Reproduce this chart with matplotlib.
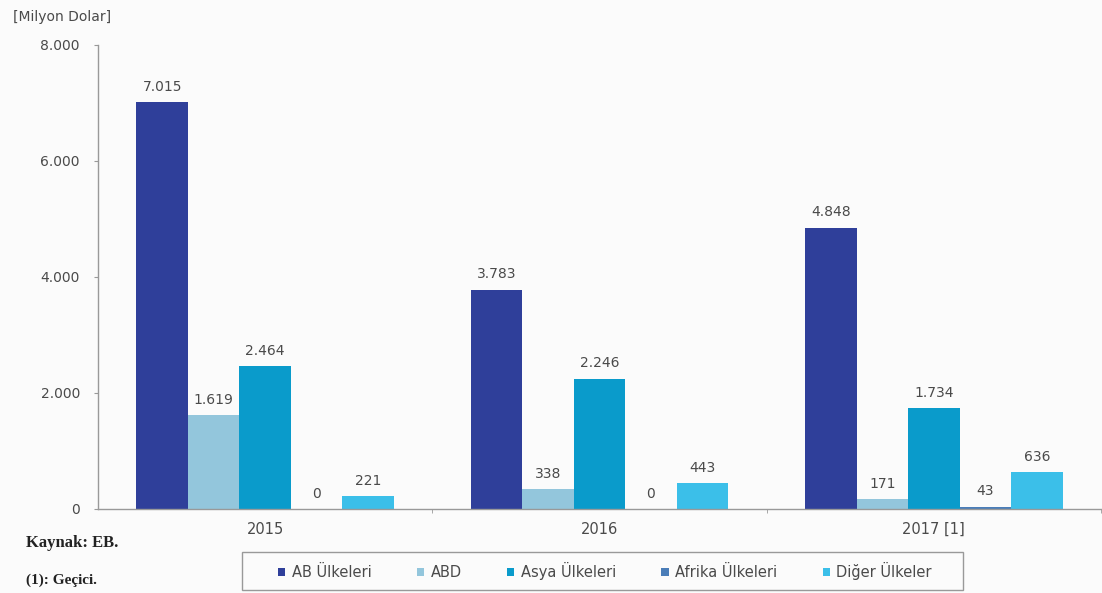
import matplotlib
matplotlib.use("Agg")
import matplotlib.pyplot as plt
from matplotlib.patches import Rectangle
import numpy as np

years = ["2015", "2016", "2017 [1]"]
series_names = ["AB Ülkeleri", "ABD", "Asya Ülkeleri", "Afrika Ülkeleri", "Diğer Ülkeler"]
ab = [7015, 3783, 4848]
abd = [1619, 338, 171]
asya = [2464, 2246, 1734]
afrika = [0, 0, 43]
diger = [221, 443, 636]
yticks = [0, 2000, 4000, 6000, 8000]
colors = ["#2f3f9a", "#93c6dc", "#0a9bcb", "#4a7db8", "#3bbfe9"]

def fmt(v):
    return f"{v:,}".replace(",", ".")

plt.rcParams['font.family'] = ['DejaVu Sans']
TXT = "#4a4a4a"
W, H = 1102, 593

fig = plt.figure(figsize=(W/100, H/100), dpi=100, facecolor="#fbfbfb")
ax = fig.add_axes([98/W, (H-509)/H, (1101-98)/W, (509-45)/H])
ax.set_facecolor("#fbfbfb")

data = [ab, abd, asya, afrika, diger]
x = np.arange(len(years))
w = 0.154
for i, (vals, name, c) in enumerate(zip(data, series_names, colors)):
    pos = x + (i - 2) * w
    ax.bar(pos, vals, width=w, color=c, label=name, edgecolor="none")
    for p, v in zip(pos, vals):
        ax.annotate(fmt(v), (p, v), xytext=(0, 6), textcoords="offset points",
                    ha="center", va="bottom", fontsize=10, color=TXT)

ax.set_xlim(-0.5, 2.5)
ax.set_ylim(0, 8000)
ax.set_yticks(yticks)
ax.set_yticklabels([fmt(v) for v in yticks], fontsize=10, color=TXT)
ax.set_xticks(x)
ax.set_xticklabels(years, fontsize=10.5, color=TXT)
ax.tick_params(axis="x", length=0, pad=9)
ax.set_xticks([0.5, 1.5, 2.5], minor=True)
ax.tick_params(axis="x", which="minor", length=3, color="#999999", direction="out")
ax.tick_params(axis="y", length=3, color="#999999", direction="out", pad=10)
for s in ["top", "right"]:
    ax.spines[s].set_visible(False)
for s in ["left", "bottom"]:
    ax.spines[s].set_color("#999999")
    ax.spines[s].set_linewidth(1.0)

fig.text(13/W, 1 - 17/H, "[Milyon Dolar]", fontsize=10, color=TXT, va="center")
fig.text(26/W, 1 - 543/H, "Kaynak: EB.", fontsize=12, fontweight="bold",
         family="Liberation Serif", va="center", color="#222222")
fig.text(26/W, 1 - 580/H, "(1): Geçici.", fontsize=11, fontweight="bold",
         family="Liberation Serif", va="center", color="#222222")

# legend box
fig.patches.append(Rectangle((242/W, 1 - 590/H), (963-242)/W, (590-552)/H,
                             transform=fig.transFigure, facecolor="#fbfbfb",
                             edgecolor="#999999", linewidth=1.0, zorder=1))
leg = fig.legend(loc="center", bbox_to_anchor=(605/W, 1 - 571/H), ncol=5,
                 fontsize=10.5, frameon=False,
                 handlelength=0.5, handleheight=0.5, handletextpad=0.45,
                 columnspacing=3.1)
for t in leg.get_texts():
    t.set_color(TXT)
leg.set_zorder(2)

fig.savefig("out.png", dpi=100, facecolor=fig.get_facecolor())
